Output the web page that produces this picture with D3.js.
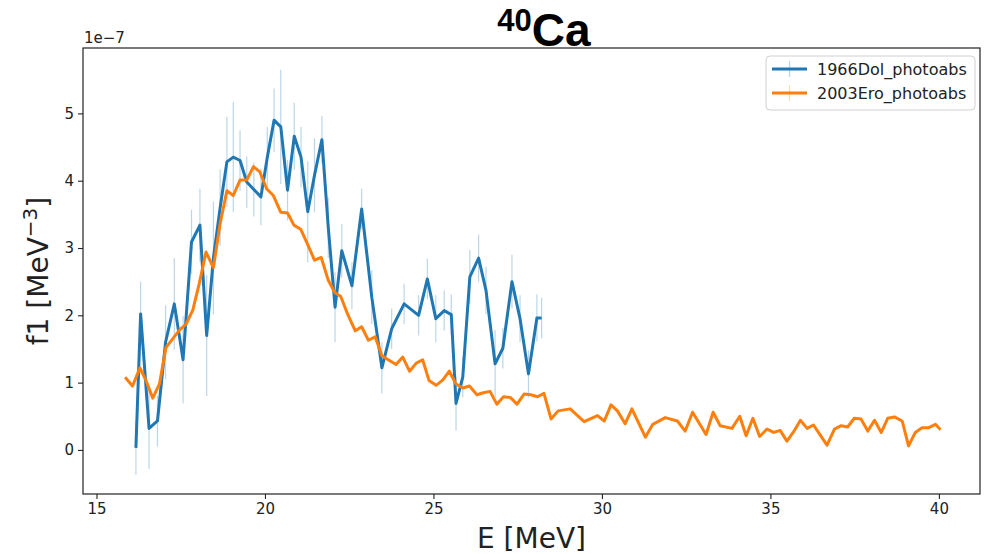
<!DOCTYPE html>
<html>
<head>
<meta charset="utf-8">
<script src="https://cdn.jsdelivr.net/npm/d3@7"></script>
<style>
  body { margin: 0; background: #fff; }
  text { font-family: "DejaVu Sans", sans-serif; }
</style>
</head>
<body>
<script>
// 1966 Dolbilkin photoabsorption (with error bars)
const energyDol = [16.17, 16.31, 16.56, 16.81, 17.05, 17.31, 17.57, 17.82, 18.07, 18.27,
  18.47, 18.67, 18.87, 19.06, 19.26, 19.46, 19.67, 19.88, 20.07, 20.27,
  20.47, 20.67, 20.87, 21.07, 21.27, 21.47, 21.69, 21.88, 22.08, 22.28,
  22.58, 22.87, 23.17, 23.47, 23.76, 24.13, 24.56, 24.82, 25.07, 25.32,
  25.53, 25.67, 25.87, 26.08, 26.34, 26.56, 26.83, 27.06, 27.33, 27.57,
  27.82, 28.07, 28.21]
const f1Dol = [0.03, 2.02, 0.32, 0.43, 1.60, 2.17, 1.34, 3.09, 3.34, 1.70,
  2.85, 3.60, 4.28, 4.35, 4.30, 3.98, 3.87, 3.76, 4.35, 4.90,
  4.80, 3.86, 4.66, 4.35, 3.54, 4.08, 4.61, 3.30, 2.12, 2.96,
  2.44, 3.58, 2.27, 1.22, 1.80, 2.17, 2.00, 2.54, 1.95, 2.07,
  2.01, 0.69, 1.08, 2.57, 2.85, 2.37, 1.28, 1.51, 2.50, 1.95,
  1.13, 1.96, 1.96]
const errDol = [0.40, 0.48, 0.60, 0.38, 0.55, 0.68, 0.65, 0.48, 0.54, 0.90,
  0.84, 0.57, 0.67, 0.82, 0.45, 0.38, 0.40, 0.42, 0.45, 0.47,
  0.85, 0.45, 0.50, 0.45, 0.75, 0.55, 0.35, 0.45, 0.52, 0.40,
  0.35, 0.30, 0.40, 0.38, 0.30, 0.30, 0.30, 0.30, 0.35, 0.30,
  0.30, 0.40, 0.30, 0.40, 0.35, 0.35, 0.50, 0.30, 0.40, 0.35,
  0.35, 0.35, 0.30]

// 2003 Erokhova photoabsorption
const energyEro = [15.85, 16.07, 16.29, 16.47, 16.67, 16.87, 17.06, 17.26, 17.46, 17.66,
  17.86, 18.05, 18.25, 18.47, 18.67, 18.87, 19.06, 19.26, 19.46, 19.66,
  19.85, 20.05, 20.25, 20.47, 20.67, 20.86, 21.06, 21.27, 21.47, 21.67,
  21.88, 22.07, 22.25, 22.45, 22.68, 22.87, 23.07, 23.27, 23.47, 23.66,
  23.89, 24.09, 24.29, 24.49, 24.68, 24.87, 25.08, 25.28, 25.47, 25.67,
  25.87, 26.07, 26.29, 26.48, 26.68, 26.88, 27.08, 27.28, 27.48, 27.69,
  27.89, 28.09, 28.28, 28.49, 28.70, 29.06, 29.47, 29.87, 30.07, 30.27,
  30.46, 30.69, 30.89, 31.29, 31.51, 31.88, 32.24, 32.47, 32.69, 33.09,
  33.30, 33.51, 33.86, 34.09, 34.28, 34.48, 34.68, 34.90, 35.10, 35.29,
  35.49, 35.69, 35.89, 36.09, 36.28, 36.48, 36.68, 36.90, 37.10, 37.29,
  37.49, 37.69, 37.89, 38.09, 38.29, 38.48, 38.68, 38.91, 39.10, 39.30,
  39.50, 39.70, 39.90, 40.05]
const f1Ero = [1.08, 0.95, 1.22, 1.03, 0.77, 0.98, 1.52, 1.65, 1.78, 1.87,
  2.08, 2.47, 2.94, 2.71, 3.36, 3.85, 3.78, 4.01, 4.01, 4.21,
  4.13, 3.88, 3.78, 3.53, 3.52, 3.34, 3.28, 3.05, 2.82, 2.86,
  2.52, 2.34, 2.28, 2.02, 1.77, 1.83, 1.63, 1.68, 1.40, 1.34,
  1.27, 1.38, 1.17, 1.29, 1.34, 1.03, 0.96, 1.04, 1.17, 0.98,
  0.92, 0.95, 0.82, 0.85, 0.87, 0.68, 0.79, 0.78, 0.68, 0.83,
  0.82, 0.79, 0.84, 0.46, 0.58, 0.61, 0.42, 0.51, 0.43, 0.67,
  0.58, 0.39, 0.61, 0.19, 0.38, 0.48, 0.43, 0.28, 0.56, 0.23,
  0.56, 0.36, 0.32, 0.50, 0.21, 0.47, 0.20, 0.31, 0.26, 0.29,
  0.13, 0.27, 0.44, 0.32, 0.37, 0.22, 0.07, 0.31, 0.36, 0.34,
  0.47, 0.46, 0.28, 0.44, 0.26, 0.47, 0.49, 0.43, 0.06, 0.26,
  0.33, 0.33, 0.38, 0.30]

const xTicks = [15, 20, 25, 30, 35, 40]
const yTicks = [0, 1, 2, 3, 4, 5]
const seriesNames = ["1966Dol_photoabs", "2003Ero_photoabs"]
const seriesColors = ["#1f77b4", "#ff7f0e"]

let width = 992
let height = 554
let plotLeft = 83, plotRight = 980, plotTop = 48, plotBottom = 494

let svg = d3.select('body')
    .append('svg')
    .attr('width', width)
    .attr('height', height)

let xScale = d3.scaleLinear()
    .domain([14.6, 41.22])
    .range([plotLeft, plotRight])

let yScale = d3.scaleLinear()
    .domain([-0.655, 5.972])
    .range([plotBottom, plotTop])

// title 40Ca
let title = svg.append('text')
    .attr('x', 544)
    .attr('y', 46)
    .attr('text-anchor', 'middle')
    .style('font-family', '"Liberation Sans", Arial, sans-serif')
    .style('font-weight', 'bold')
    .style('font-size', '46px')
title.append('tspan').text('40').style('font-size', '31px').attr('dy', -15)
title.append('tspan').text('Ca').attr('dy', 15)

// axes
let x_axis = d3.axisBottom(xScale).tickValues(xTicks).tickFormat(d3.format('d')).tickSize(5).tickPadding(4)
let y_axis = d3.axisLeft(yScale).tickValues(yTicks).tickFormat(d3.format('d')).tickSize(5).tickPadding(4)

let gx = svg.append('g')
    .attr('transform', 'translate(0,' + plotBottom + ')')
    .call(x_axis)
let gy = svg.append('g')
    .attr('transform', 'translate(' + plotLeft + ',0)')
    .call(y_axis)

;[gx, gy].forEach(g => {
    g.select('.domain').remove()
    g.selectAll('line').attr('stroke', '#222').attr('stroke-width', 1.1)
    g.selectAll('text').attr('fill', '#222').style('font-size', '15px')
})

svg.append('text')
    .attr('x', 84).attr('y', 43)
    .attr('fill', '#222')
    .style('font-size', '15px')
    .text('1e\u22127')

// error bars (blue)
let g = svg.append('g')
g.selectAll('.err')
    .data(energyDol)
    .enter().append('line')
    .attr('class', 'err')
    .attr('x1', d => xScale(d))
    .attr('x2', d => xScale(d))
    .attr('y1', (d, i) => yScale(f1Dol[i] - errDol[i]))
    .attr('y2', (d, i) => yScale(f1Dol[i] + errDol[i]))
    .attr('stroke', seriesColors[0])
    .attr('stroke-opacity', 0.3)
    .attr('stroke-width', 1.2)

let line = d3.line().x(d => xScale(d[0])).y(d => yScale(d[1]))

g.append('path')
    .datum(energyDol.map((e, i) => [e, f1Dol[i]]))
    .attr('d', line)
    .attr('fill', 'none')
    .attr('stroke', seriesColors[0])
    .attr('stroke-width', 3)
    .attr('stroke-linejoin', 'round')

g.append('path')
    .datum(energyEro.map((e, i) => [e, f1Ero[i]]))
    .attr('d', line)
    .attr('fill', 'none')
    .attr('stroke', seriesColors[1])
    .attr('stroke-width', 3)
    .attr('stroke-linejoin', 'round')

// frame
svg.append('rect')
    .attr('x', plotLeft).attr('y', plotTop)
    .attr('width', plotRight - plotLeft).attr('height', plotBottom - plotTop)
    .attr('fill', 'none')
    .attr('stroke', '#222')
    .attr('stroke-width', 1.2)

// axis labels
svg.append('text')
    .attr('x', (plotLeft + plotRight) / 2).attr('y', 548)
    .attr('text-anchor', 'middle')
    .attr('fill', '#222')
    .style('font-size', '28px')
    .text('E [MeV]')

let ylab = svg.append('text')
    .attr('transform', 'translate(48,' + ((plotTop + plotBottom) / 2) + ') rotate(-90)')
    .attr('text-anchor', 'middle')
    .attr('fill', '#222')
    .style('font-size', '28px')
ylab.append('tspan').text('f1 [MeV')
ylab.append('tspan').text('\u22123').style('font-size', '20px').attr('dy', -11)
ylab.append('tspan').text(']').attr('dy', 11)

// legend
let lg = svg.append('g').attr('transform', 'translate(766,56)')
lg.append('rect')
    .attr('width', 209).attr('height', 54)
    .attr('rx', 4)
    .attr('fill', '#fff').attr('fill-opacity', 0.8)
    .attr('stroke', '#d0d0d0')

seriesNames.forEach((name, i) => {
    let yy = 13 + i * 24
    lg.append('line')
        .attr('x1', 6).attr('x2', 41).attr('y1', yy).attr('y2', yy)
        .attr('stroke', seriesColors[i]).attr('stroke-width', 3)
    lg.append('line')
        .attr('x1', 23.5).attr('x2', 23.5).attr('y1', yy - 8).attr('y2', yy + 8)
        .attr('stroke', seriesColors[i]).attr('stroke-opacity', 0.3).attr('stroke-width', 1.2)
    lg.append('text')
        .attr('x', 51).attr('y', yy + 6)
        .attr('fill', '#222')
        .style('font-size', '16px')
        .text(name)
})
</script>
</body>
</html>
